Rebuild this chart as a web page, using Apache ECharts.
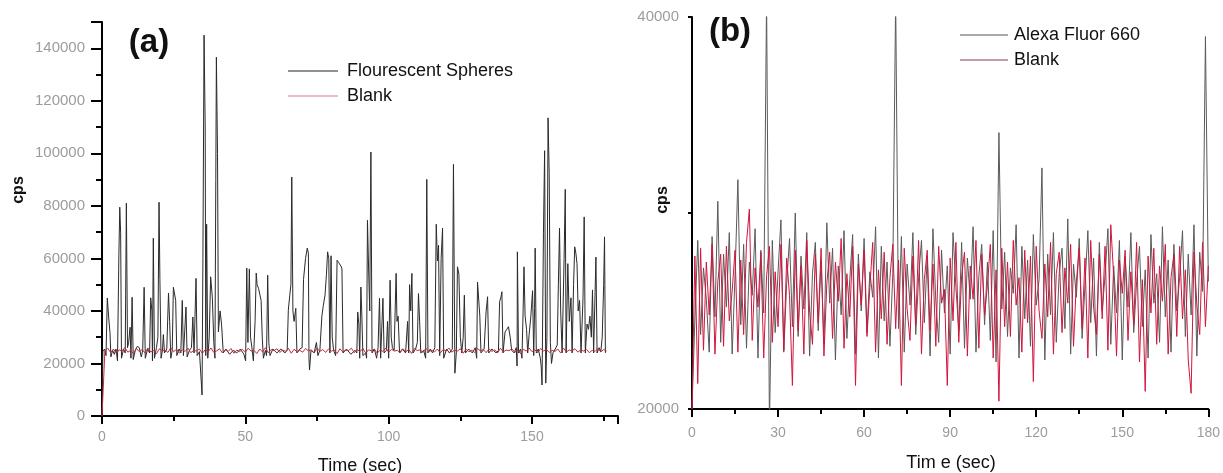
<!DOCTYPE html>
<html>
<head>
<meta charset="utf-8">
<script src="https://cdn.jsdelivr.net/npm/echarts@6/dist/echarts.min.js"></script>
<style>
html,body{margin:0;padding:0;background:#fff;}
#chart{width:1223px;height:473px;}
</style>
</head>
<body>
<div id="chart"></div>
<script>
// ---------- DATA ----------
// Panel (a): Flourescent Spheres  [time (s), cps]
const spheresA = [
[0,0],[0.3,24500],[0.9,25500],[1.4,23000],[1.85,44900],[2.3,38000],[2.8,31500],[3.1,22500],[3.7,25000],[4.3,23500],
[4.9,25500],[5.4,21000],[5.9,62000],[6.2,79500],[6.5,70000],[6.8,22000],[7.5,25500],[8.1,24000],[8.5,81000],[8.9,26000],
[9.3,28000],[9.8,33800],[10.1,22000],[10.5,45200],[10.9,21500],[11.6,25000],[12.3,26500],[13.0,26000],[13.7,22500],[14.2,25000],
[14.7,49000],[15.1,22000],[15.9,25500],[16.6,24000],[17.0,45000],[17.4,40000],[17.6,21000],[17.9,67700],[18.3,22000],[19.0,26000],
[19.5,30000],[19.9,81400],[20.2,52000],[20.6,22000],[21.1,25000],[21.4,31000],[21.8,24000],[22.6,25500],[23.2,46800],[23.6,36000],
[24.0,22000],[24.5,25000],[24.9,49000],[25.7,44000],[26.1,23000],[26.9,25500],[27.5,24000],[28.0,44000],[28.4,23000],[29.3,41500],
[29.7,22500],[30.5,25000],[31.2,26000],[31.7,37700],[32.1,24000],[32.8,52400],[33.2,23000],[34.0,24500],[34.9,8000],[35.2,60000],
[35.6,145000],[36.0,110000],[36.2,23000],[36.5,73000],[36.9,22000],[37.4,30000],[37.9,53000],[38.5,45000],[39.0,28000],[39.4,22000],
[39.7,90000],[39.9,136600],[40.3,100000],[40.6,32000],[41.2,40000],[41.7,35000],[42.3,24000],[43.2,25500],[44.5,23500],[45.8,25000],
[47.0,24000],[48.3,25500],[49.5,23500],[50.1,21000],[50.5,56300],[50.9,28000],[51.4,56000],[51.8,30000],[52.3,26000],[52.8,21000],
[53.4,36000],[53.8,54400],[54.1,50000],[54.6,48600],[55.5,44000],[55.9,30000],[56.3,22000],[57.0,25000],[57.4,23000],[57.8,53600],
[58.2,28000],[58.6,23000],[59.6,25500],[61.0,24000],[62.4,25500],[63.8,24000],[64.6,25000],[65.0,40300],[65.5,46000],[65.9,50000],
[66.2,91000],[66.6,40000],[67.0,36000],[67.6,41000],[68.0,24000],[69.0,25500],[69.8,26000],[70.3,52000],[71.0,60000],[71.6,63900],
[72.0,62000],[72.2,22000],[72.4,17500],[72.9,25000],[74.0,24000],[74.8,28000],[75.3,23000],[76.0,25000],[76.7,38000],[77.2,42000],
[77.8,46000],[78.3,54000],[78.7,62500],[79.1,60000],[79.5,24000],[79.9,61000],[80.3,30000],[80.8,25000],[81.5,23000],[82.0,59300],
[82.5,58500],[83.0,58000],[83.4,57000],[83.7,56000],[84.1,24000],[85.3,25500],[86.8,23500],[88.3,25000],[88.9,24000],[89.2,39600],
[89.6,35000],[89.9,22000],[90.3,49100],[90.6,40000],[91.0,23000],[92.0,24000],[92.3,22000],[92.6,74500],[93.0,56000],[93.4,40000],
[93.8,100500],[94.2,24000],[95.0,25500],[95.8,22000],[96.3,26000],[96.8,44800],[97.2,22000],[98.0,44800],[98.4,24000],[99.2,25000],
[99.6,36000],[100.0,22000],[100.5,51700],[100.9,30000],[101.3,26000],[101.9,25000],[102.6,54300],[102.9,36000],[103.3,38000],[103.8,24000],
[104.8,25500],[105.9,24000],[106.6,36000],[107.0,24000],[107.3,50000],[107.7,40000],[108.1,54300],[108.5,24000],[109.4,25500],[110.0,28000],
[110.4,46600],[110.8,36000],[111.2,24000],[112.2,25000],[112.9,22000],[113.3,90100],[113.7,24000],[114.5,25500],[115.3,24000],[116.1,26000],
[116.6,73000],[117.0,59000],[117.4,65000],[117.8,23000],[118.3,60000],[118.8,71500],[119.2,22000],[120.2,25500],[121.2,24000],[122.2,25500],
[122.6,95800],[123.1,16300],[123.6,24000],[124.0,56800],[124.5,54000],[125.0,30000],[125.5,24000],[126.0,30000],[126.4,46000],[126.8,24000],
[127.9,25500],[129.2,24000],[130.2,26000],[130.7,22000],[131.0,51000],[131.4,51000],[131.8,38000],[132.2,24000],[133.3,25500],[134.0,40000],
[134.3,43000],[134.5,45400],[134.9,24000],[136.0,25500],[137.5,24000],[138.3,25000],[138.7,43500],[139.1,45000],[139.5,47300],[139.9,24000],
[140.6,32000],[141.2,33000],[141.8,34000],[142.4,30000],[142.9,25000],[143.8,24000],[144.5,26000],[144.8,19000],[144.9,62500],[145.3,24000],
[146.0,25500],[146.5,22000],[146.9,40000],[147.2,56800],[147.6,38000],[148.1,33000],[148.5,24000],[149.0,31000],[149.6,38000],[150.2,47700],
[150.6,23000],[150.9,41000],[151.1,63900],[151.5,24000],[152.2,25500],[152.9,22000],[153.2,19000],[153.5,11800],[154.0,70000],[154.4,101000],
[154.8,12500],[155.2,30000],[155.6,113500],[156.0,92300],[156.4,28000],[156.8,20000],[157.3,24000],[158.1,25500],[158.8,27000],[159.2,50000],
[159.6,71500],[160.0,40000],[160.5,24000],[161.2,60000],[161.6,86300],[161.9,24000],[162.5,58000],[163.0,36000],[163.6,45000],[164.0,24000],
[164.5,50000],[164.9,64400],[165.3,62000],[165.7,58000],[166.1,40000],[166.6,44000],[167.1,24000],[167.8,45000],[168.2,75800],[168.6,24000],
[169.2,35000],[169.7,33000],[170.2,38000],[170.7,30000],[171.1,48000],[171.5,24000],[172.3,60500],[172.7,24000],[173.4,26000],[174.0,24500],
[174.5,30000],[175.0,50000],[175.3,68200],[175.6,24000]
];
// Panel (a): Blank, one reading per second from t = 0
const blankA = [
0,24600,25800,24200,25500,23900,25200,24700,26100,24300,
25000,23800,25700,24500,25300,24000,25900,24400,24900,23700,
25600,24800,25100,24200,26000,24500,25400,23900,25200,24600,
25800,24100,25000,24700,25500,23800,25300,24400,25900,24200,
24800,25600,24000,25200,24600,25700,23900,25100,24500,25400,
24300,25800,24700,25000,23800,25500,24400,26000,24100,25300,
24900,25600,24200,25100,24600,25800,23900,25400,24500,25000,
24300,25700,24800,25200,24000,25900,24600,25300,24200,25500,
24700,25100,23800,25600,24400,25000,24900,25800,24100,25300,
24500,25700,24000,25200,24800,25500,23900,25100,24600,25900,
24300,25400,24700,25000,24100,25600,24500,25300,23800,25700,
24900,25200,24200,25800,24600,25000,24400,25500,24000,25300,
24800,25900,24300,25100,24700,25600,23900,25400,24500,25000,
24200,25700,24800,25300,24100,25500,24600,25200,24000,25800,
24400,25100,24900,25600,24300,25000,23800,25400,24700,25900,
24500,25200,24100,25700,24800,25300,24200,25000,24600,25500,
24000,25800,24400,25100,24900,25600,24300,25200,24700,25400,
24100,25000,24600,25700,24400,25300,24800
];
// Panel (b): one reading per second from t = 0
const alexaB = [
20000,24500,28600,23800,27200,25600,22900,28800,24700,30600,
23400,27900,25200,29000,22800,26800,31700,24300,28400,23100,
27500,25800,29200,22600,28100,24900,41000,19000,28600,23900,
27000,29650,22900,26400,28700,24200,30000,23700,27800,25100,
29000,22700,26900,28500,24000,27600,23300,29500,25400,28200,
22500,27300,24800,29100,23600,26600,28900,22800,27900,25000,
28700,23900,27000,25700,29300,22600,28300,24500,27500,23200,
26900,41000,24100,28800,22900,27400,25300,29000,23800,26700,
28600,24400,27800,22700,29200,25500,23400,28100,24900,27300,
22800,29000,26200,24000,28500,23100,27700,25600,29300,22900,
26800,28400,24300,27500,23500,29100,22400,34100,25100,28000,
23700,27200,25900,29400,22600,28300,24600,27600,23200,28900,
25300,26600,32300,22500,27900,24800,29000,23400,26900,28200,
24100,29700,22800,27400,25700,28700,23600,26300,29100,24400,
27700,22700,28500,25000,26800,29200,23300,27300,24900,28600,
22500,27800,25200,29000,23900,26500,28300,24200,27100,22600,
28900,25400,26900,23400,29300,24700,27600,22900,28400,25000,
26700,29100,23700,27900,24800,29400,22700,28000,26000,39000,
26500
];
const blankB = [
20000,27800,21300,28200,23000,27500,24800,28400,22800,26500,
27900,23200,28300,24500,26000,28100,22900,27600,23800,28500,
30200,23500,27200,25200,28000,22600,26800,28300,23400,27000,
24200,28400,23000,27700,25800,21200,28100,24000,27300,22800,
28600,25000,23300,27900,24400,28200,22700,26400,28000,23600,
27500,25500,28700,23100,26900,24700,28300,21200,27400,25300,
28100,23700,26200,28500,22900,27100,24600,28000,23300,26700,
28400,24100,27600,21200,28200,25100,23500,27800,24300,28600,
22800,26600,28100,24000,27400,23200,28300,25400,26100,21200,
27700,24500,28500,23400,26800,28000,22700,27300,25600,28600,
23100,27900,24800,26300,28400,22600,27100,20400,28200,24200,
27500,23700,28600,25300,26700,22900,28100,24400,27800,21400,
28300,25000,23600,27400,24700,28500,22800,26900,28000,23900,
27200,25400,28400,23200,26500,28200,24100,27700,22600,28600,
25200,23800,27900,24600,28300,23000,29400,26800,22700,27600,
25900,28100,23500,27000,24300,28500,22400,26600,20900,27800,
24900,28200,23300,27300,25500,28400,22800,26700,27900,23700,
28300,24600,27100,22500,20800,28000,25300,23800,28500,24200,
27300
];
const xTicksA = [0, 50, 100, 150];
const yLabelsB = [20000, 40000];

// ---------- CHART ----------
const FONT = '"Liberation Sans", Arial, sans-serif';
const toSeries = arr => arr.map((v, i) => [i, v]);
const labelGray = '#9c9c9c';

const chart = echarts.init(document.getElementById('chart'), null, {renderer: 'canvas'});

const axisCommon = {
  axisLine: {show: true, onZero: false, lineStyle: {color: '#000', width: 2}},
  splitLine: {show: false},
  axisLabel: {color: labelGray, fontSize: 14, fontFamily: FONT}
};

chart.setOption({
  animation: false,
  backgroundColor: '#fff',
  grid: [
    {left: 102, top: 22, width: 516, height: 394},
    {left: 692, top: 17, width: 518, height: 392}
  ],
  xAxis: [
    Object.assign({}, axisCommon, {
      gridIndex: 0, type: 'value', min: 0, max: 180, interval: 50,
      axisTick: {show: true, length: 8, lineStyle: {color: '#000', width: 2}},
      minorTick: {show: true, splitNumber: 2, length: 5, lineStyle: {color: '#000', width: 2}},
      axisLabel: {color: labelGray, fontSize: 14, fontFamily: FONT, margin: 14,
        formatter: v => xTicksA.indexOf(v) >= 0 ? String(v) : ''}
    }),
    Object.assign({}, axisCommon, {
      gridIndex: 1, type: 'value', min: 0, max: 180, interval: 30,
      axisTick: {show: true, length: 8, lineStyle: {color: '#000', width: 2}},
      minorTick: {show: true, splitNumber: 2, length: 5, lineStyle: {color: '#000', width: 2}},
      axisLabel: {color: labelGray, fontSize: 14, fontFamily: FONT, margin: 17}
    })
  ],
  yAxis: [
    Object.assign({}, axisCommon, {
      gridIndex: 0, type: 'value', min: 0, max: 150000, interval: 20000,
      axisTick: {show: true, length: 11, lineStyle: {color: '#000', width: 2}},
      minorTick: {show: true, splitNumber: 2, length: 6, lineStyle: {color: '#000', width: 2}},
      axisLabel: {color: labelGray, fontSize: 15, fontFamily: FONT, margin: 17,
        formatter: v => (v % 20000 === 0 && v <= 140000) ? String(v) : ''}
    }),
    Object.assign({}, axisCommon, {
      gridIndex: 1, type: 'value', min: 20000, max: 40000, interval: 10000,
      axisTick: {show: true, length: 4, lineStyle: {color: '#000', width: 2}},
      axisLabel: {color: labelGray, fontSize: 15, fontFamily: FONT, margin: 13,
        formatter: v => yLabelsB.indexOf(v) >= 0 ? String(v) : ''}
    })
  ],
  legend: [
    {
      left: 288, top: 62, orient: 'vertical', itemWidth: 50, itemHeight: 1, itemGap: 7,
      icon: 'rect', selectedMode: false, padding: 0,
      textStyle: {fontSize: 18, fontFamily: FONT, color: '#111', padding: [0, 0, 0, 4]},
      data: [
        {name: 'Flourescent Spheres', itemStyle: {color: '#222'}},
        {name: 'Blank', itemStyle: {color: '#d47c90'}}
      ]
    },
    {
      left: 960, top: 26, orient: 'vertical', itemWidth: 48, itemHeight: 1, itemGap: 7,
      icon: 'rect', selectedMode: false, padding: 0,
      textStyle: {fontSize: 18, fontFamily: FONT, color: '#111', padding: [0, 0, 0, 1]},
      data: [
        {name: 'Alexa Fluor 660', itemStyle: {color: '#555'}},
        {name: 'Blank', itemStyle: {color: '#8a3a48'}}
      ]
    }
  ],
  graphic: [
    {type: 'text', x: 149, y: 43, style: {text: '(a)', fontSize: 33, fontWeight: 'bold', fontFamily: FONT, fill: '#111', textAlign: 'center', textVerticalAlign: 'middle'}},
    {type: 'text', x: 730, y: 32, style: {text: '(b)', fontSize: 33, fontWeight: 'bold', fontFamily: FONT, fill: '#111', textAlign: 'center', textVerticalAlign: 'middle'}},
    {type: 'text', x: 19, y: 190, rotation: Math.PI / 2, style: {text: 'cps', fontSize: 16, fontWeight: 'bold', fontFamily: FONT, fill: '#111', textAlign: 'center', textVerticalAlign: 'middle'}},
    {type: 'text', x: 663, y: 200, rotation: Math.PI / 2, style: {text: 'cps', fontSize: 16, fontWeight: 'bold', fontFamily: FONT, fill: '#111', textAlign: 'center', textVerticalAlign: 'middle'}},
    {type: 'text', x: 360, y: 466, style: {text: 'Time (sec)', fontSize: 18, fontFamily: FONT, fill: '#111', textAlign: 'center', textVerticalAlign: 'middle'}},
    {type: 'text', x: 951, y: 463, style: {text: 'Tim e (sec)', fontSize: 18, fontFamily: FONT, fill: '#111', textAlign: 'center', textVerticalAlign: 'middle'}}
  ],
  series: [
    {name: 'Flourescent Spheres', type: 'line', xAxisIndex: 0, yAxisIndex: 0, data: spheresA,
      symbol: 'none', lineStyle: {color: '#2a2a2a', width: 1}, itemStyle: {color: '#2a2a2a'}, z: 2},
    {name: 'Blank', type: 'line', xAxisIndex: 0, yAxisIndex: 0, data: toSeries(blankA),
      symbol: 'none', lineStyle: {color: '#c4283e', width: 1}, itemStyle: {color: '#c4283e'}, z: 3},
    {name: 'Alexa Fluor 660', type: 'line', xAxisIndex: 1, yAxisIndex: 1, data: toSeries(alexaB),
      symbol: 'none', lineStyle: {color: '#5a5a5a', width: 1}, itemStyle: {color: '#5a5a5a'}, z: 2},
    {name: 'Blank', type: 'line', xAxisIndex: 1, yAxisIndex: 1, data: toSeries(blankB),
      symbol: 'none', lineStyle: {color: '#d0163c', width: 1}, itemStyle: {color: '#d0163c'}, z: 3}
  ]
});
</script>
</body>
</html>
